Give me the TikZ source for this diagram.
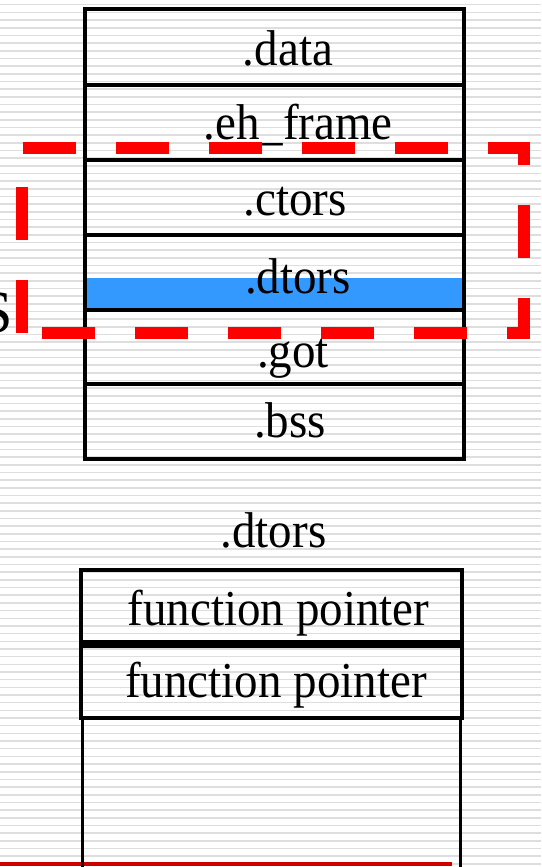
\documentclass[tikz,border=0pt]{standalone}
\usepackage{fontspec}
\usepackage{graphicx}
\setmainfont{Liberation Serif}
\definecolor{bandblue}{RGB}{51,153,255}
\definecolor{stripegray}{RGB}{222,222,222}
\definecolor{darkred}{RGB}{204,0,0}
\newcommand\stretchtxt[1]{\scalebox{1}[1.07]{#1}}
\begin{document}
\begin{tikzpicture}[x=1pt,y=-1pt,
  rowbox/.style={draw, line width=3.5pt, inner sep=0pt, outer sep=0pt},
  lbl/.style={font=\fontsize{47}{56}\selectfont, anchor=base, inner sep=0pt}]
\useasboundingbox (0,0) rectangle (541,867);
\clip (0,0) rectangle (541,867);
% background stripes
\foreach \i in {0,...,113}
  \draw[stripegray, line width=1.6pt] ({0},{4.7+7.67*\i}) -- ({541},{4.7+7.67*\i});
% blue band
\fill[bandblue] (85,278) rectangle (464,310);
% top sections
\node[rowbox, minimum width=379pt, minimum height=76pt] (rdata) at (274.5,47) {};
\node[rowbox, minimum width=379pt, minimum height=75pt] (reh) at (274.5,122.5) {};
\node[rowbox, minimum width=379pt, minimum height=75pt] (rctors) at (274.5,197.5) {};
\node[rowbox, minimum width=379pt, minimum height=75pt] (rdtors) at (274.5,272.5) {};
\node[rowbox, minimum width=379pt, minimum height=74pt] (rgot) at (274.5,347) {};
\node[rowbox, minimum width=379pt, minimum height=75pt] (rbss) at (274.5,421.5) {};
\node[lbl] (tdata) at (288,66) {\stretchtxt{.data}};
\node[lbl] (teh) at (298,139) {\stretchtxt{.eh\_frame}};
\node[lbl] (tctors) at (295,215) {\stretchtxt{.ctors}};
\node[lbl] (tdtors) at (298,293) {\stretchtxt{.dtors}};
\node[lbl] (tgot) at (293,367) {\stretchtxt{.got}};
\node[lbl] (tbss) at (290,437) {\stretchtxt{.bss}};
% clipped S at left
\node[font=\fontsize{60}{70}\selectfont, anchor=base east, inner sep=0pt] (sleft) at (13,332) {S};
% red dashed frame
\coordinate (fbl) at (21.5,333);
\coordinate (ftl) at (21.5,148);
\coordinate (ftr) at (524,148);
\coordinate (fbr) at (524,333);
\draw[red, line width=12pt, dash pattern=on 53pt off 40pt] (fbl) -- (ftl) -- (ftr) -- (fbr) -- (fbl);
% lower .dtors
\node[lbl] (tdt2) at (273.5,547) {\stretchtxt{.dtors}};
\draw[darkred, line width=4pt] (0,864) -- (452,864);
\node[rowbox, line width=4pt, minimum width=381pt, minimum height=72pt] (fp1) at (271.5,606) {};
\node[rowbox, line width=3.5pt, minimum width=381pt, minimum height=72pt] (fp2) at (271.5,682) {};
\node[rowbox, line width=3.5pt, minimum width=378pt, minimum height=172pt] (fp3) at (271.5,804) {};
\node[lbl] (tfp1) at (278.5,625) {\stretchtxt{function pointer}};
\node[lbl] (tfp2) at (276,697) {\stretchtxt{function pointer}};
\end{tikzpicture}
\end{document}
